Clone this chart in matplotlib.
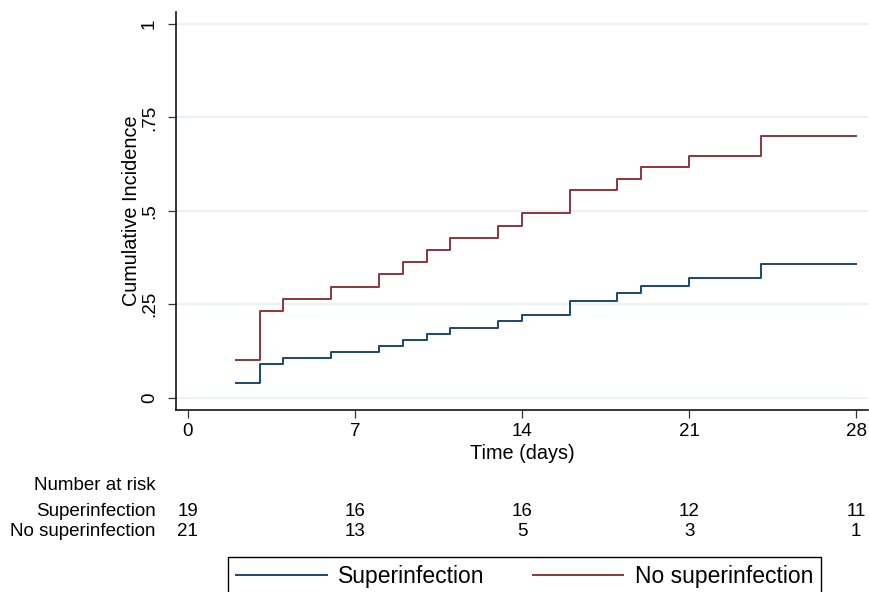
import numpy as np
import matplotlib
matplotlib.use("Agg")
import matplotlib.pyplot as plt
import matplotlib.transforms as mtransforms

plt.rcParams["font.family"] = ["Liberation Sans", "DejaVu Sans"]

# step curves (cumulative incidence)
days = [2, 3, 4, 6, 8, 9, 10, 11, 13, 14, 16, 18, 19, 21, 24, 28]
super_ci = [0.038, 0.091, 0.106, 0.122, 0.138, 0.154, 0.170, 0.186,
            0.204, 0.222, 0.260, 0.279, 0.299, 0.319, 0.359, 0.359]
nosuper_ci = [0.100, 0.231, 0.263, 0.297, 0.330, 0.362, 0.395, 0.428,
              0.460, 0.493, 0.556, 0.586, 0.616, 0.646, 0.700, 0.700]

# number at risk table
risk_times = [0, 7, 14, 21, 28]
risk_super = [19, 16, 16, 12, 11]
risk_nosuper = [21, 13, 5, 3, 1]

yticks = [0, 0.25, 0.5, 0.75, 1]
ytick_labels = ["0", ".25", ".5", ".75", "1"]

blue = "#1a476f"
red = "#90353b"

W, H = 869, 592
fig = plt.figure(figsize=(W / 100, H / 100), dpi=100)
ax = fig.add_axes([176 / W, 1 - 410 / H, 692 / W, 398 / H])

ax.step(days, super_ci, where="post", color=blue, linewidth=1.4,
        label="Superinfection", zorder=3)
ax.step(days, nosuper_ci, where="post", color=red, linewidth=1.4,
        label="No superinfection", zorder=3)

ax.set_xlim(-0.5, 28.5)
ax.set_ylim(-0.033, 1.032)
ax.set_xticks(risk_times)
ax.set_yticks(yticks)
ax.set_yticklabels(ytick_labels, rotation=90, va="center")
ax.grid(axis="y", color="#eaf2f3", linewidth=1.5, zorder=0)
ax.tick_params(axis="both", labelsize=13.5, length=6, width=0.9, color="#333333")
ax.tick_params(axis="y", pad=7)
ax.tick_params(axis="x", pad=3)

for s in ["top", "right"]:
    ax.spines[s].set_visible(False)
for s in ["left", "bottom"]:
    ax.spines[s].set_linewidth(1.1)

ax.set_xlabel("Time (days)", fontsize=14.3, labelpad=3)
ax.set_ylabel("Cumulative Incidence", fontsize=14.3, labelpad=0)

# risk table
trans = mtransforms.blended_transform_factory(ax.transData, fig.transFigure)
fig.text(156 / W, 1 - 485 / H, "Number at risk", ha="right", va="center", fontsize=13.5)
fig.text(156 / W, 1 - 511 / H, "Superinfection", ha="right", va="center", fontsize=13.5)
fig.text(156 / W, 1 - 531 / H, "No superinfection", ha="right", va="center", fontsize=13.5)
for t, a, b in zip(risk_times, risk_super, risk_nosuper):
    ax.text(t, 1 - 511 / H, str(a), transform=trans, ha="center", va="center",
            fontsize=13.5, clip_on=False)
    ax.text(t, 1 - 531 / H, str(b), transform=trans, ha="center", va="center",
            fontsize=13.5, clip_on=False)

leg = fig.legend(loc="upper left", bbox_to_anchor=(228 / W, 1 - 557 / H),
                 ncol=2, fontsize=16.5, frameon=True, fancybox=False,
                 edgecolor="black", framealpha=1, borderaxespad=0,
                 handlelength=3.95, handletextpad=0.5, columnspacing=2.1,
                 borderpad=0.35)
leg.get_frame().set_linewidth(1.0)

fig.savefig("out.png", dpi=100)
plt.close(fig)
